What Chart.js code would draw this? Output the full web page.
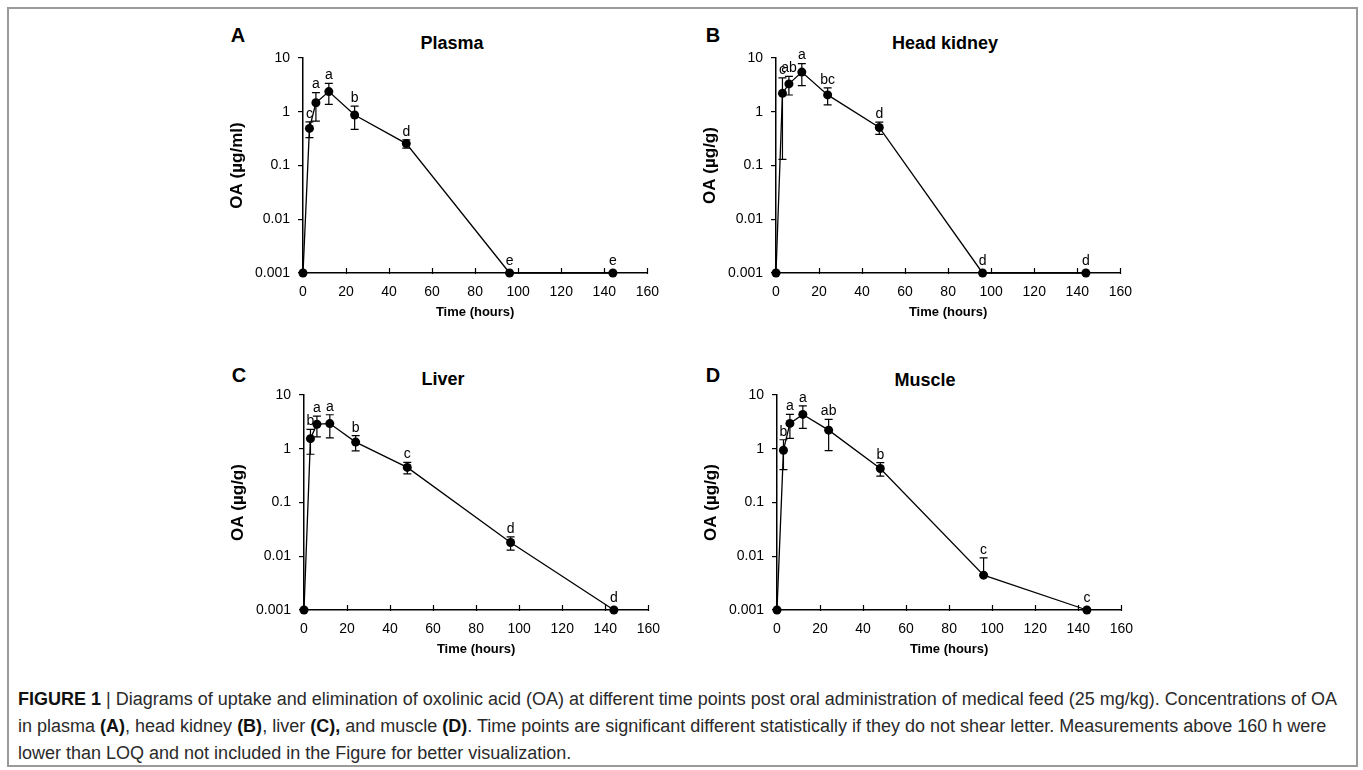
<!DOCTYPE html>
<html>
<head>
<meta charset="utf-8">
<script src="https://cdn.jsdelivr.net/npm/chart.js@4.4.1/dist/chart.umd.min.js"></script>
<style>
  body { margin: 0; background: #fff; width: 1363px; height: 770px; position: relative; overflow: hidden;
         font-family: "Liberation Sans", Arial, sans-serif; }
  #frame { position: absolute; left: 7px; top: 7px; width: 1347px; height: 756px; border: 2px solid #9a9a9a; }
  canvas { position: absolute; }
  .lbl { position: absolute; font-weight: bold; color: #000; transform: translate(-50%, -50%); white-space: nowrap; }
  .panel { font-size: 20px; }
  .ttl { font-size: 18px; }
  #caption { position: absolute; left: 18px; top: 686px; font-size: 18px; line-height: 27px; color: #2a2a2a; white-space: nowrap; }
  #caption b { font-weight: bold; color: #111; }
</style>
</head>
<body>
<div id="frame"></div>

<div class="lbl panel" style="left:238px;top:35px">A</div>
<div class="lbl panel" style="left:713px;top:35px">B</div>
<div class="lbl panel" style="left:239px;top:375px">C</div>
<div class="lbl panel" style="left:713px;top:375px">D</div>

<div class="lbl ttl" style="left:452px;top:43px">Plasma</div>
<div class="lbl ttl" style="left:945px;top:43px">Head kidney</div>
<div class="lbl ttl" style="left:443px;top:379px">Liver</div>
<div class="lbl ttl" style="left:925px;top:380px">Muscle</div>

<canvas id="chartA" width="470" height="310"></canvas>
<canvas id="chartB" width="470" height="310"></canvas>
<canvas id="chartC" width="470" height="310"></canvas>
<canvas id="chartD" width="470" height="310"></canvas>

<div id="caption"><b>FIGURE 1</b> | Diagrams of uptake and elimination of oxolinic acid (OA) at different time points post oral administration of medical feed (25 mg/kg). Concentrations of OA<br>in plasma <b>(A)</b>, head kidney <b>(B)</b>, liver <b>(C),</b> and muscle <b>(D)</b>. Time points are significant different statistically if they do not shear letter. Measurements above 160 h were<br>lower than LOQ and not included in the Figure for better visualization.</div>

<script>
// sampling times (hours) and axis ticks
const hours = [0, 3, 6, 12, 24, 48, 96, 144];
const xTicks = [0, 20, 40, 60, 80, 100, 120, 140, 160];
const yTicks = [0.001, 0.01, 0.1, 1, 10];
const yTickLabels = ['0.001', '0.01', '0.1', '1', '10'];

// mean OA concentration, SD and significance letters per tissue
const plasmaMean = [0.001, 0.49, 1.47, 2.37, 0.87, 0.256, 0.001, 0.001];
const plasmaSd = [0, 0.16, 0.8, 1.0, 0.4, 0.045, 0, 0];
const plasmaLetters = ['', 'c', 'a', 'a', 'b', 'd', 'e', 'e'];

const kidneyMean = [0.001, 2.2, 3.3, 5.47, 2.06, 0.51, 0.001, 0.001];
const kidneySd = [0, 2.07, 1.25, 2.4, 0.72, 0.13, 0, 0];
const kidneyLetters = ['', 'c', 'ab', 'a', 'bc', 'd', 'd', 'd'];

const liverMean = [0.001, 1.54, 2.86, 2.94, 1.33, 0.45, 0.018, 0.001];
const liverSd = [0, 0.75, 1.2, 1.35, 0.42, 0.11, 0.005, 0];
const liverLetters = ['', 'b', 'a', 'a', 'b', 'c', 'd', 'd'];

const muscleMean = [0.001, 0.94, 2.96, 4.35, 2.22, 0.43, 0.00445, 0.001];
const muscleSd = [0, 0.53, 1.4, 1.95, 1.3, 0.12, 0.0049, 0];
const muscleLetters = ['', 'b', 'a', 'a', 'ab', 'b', 'c', 'c'];

// plot area placement (left / top of the axes box)
const panels = [
  { id: 'chartA', yTitle: 'OA (µg/ml)', mean: plasmaMean, sd: plasmaSd, letters: plasmaLetters, left: 303, top: 58 },
  { id: 'chartB', yTitle: 'OA (µg/g)', mean: kidneyMean, sd: kidneySd, letters: kidneyLetters, left: 776, top: 58 },
  { id: 'chartC', yTitle: 'OA (µg/g)', mean: liverMean, sd: liverSd, letters: liverLetters, left: 304, top: 395 },
  { id: 'chartD', yTitle: 'OA (µg/g)', mean: muscleMean, sd: muscleSd, letters: muscleLetters, left: 777, top: 395 }
];

const Y_AXIS_W = 103;
const PAD_TOP = 38;

const errorBars = {
  id: 'errorBars',
  beforeDatasetsDraw(chart, args, opts) {
    const { ctx, scales: { x, y } } = chart;
    const pts = chart.data.datasets[0].data;
    ctx.save();
    ctx.strokeStyle = '#000';
    ctx.lineWidth = 1.2;
    pts.forEach((p, i) => {
      const sd = opts.sd[i];
      if (!sd) return;
      const px = x.getPixelForValue(p.x);
      const hi = y.getPixelForValue(p.y + sd);
      const lo = p.y - sd > 0 ? y.getPixelForValue(p.y - sd) : null;
      const mid = y.getPixelForValue(p.y);
      ctx.beginPath();
      ctx.moveTo(px, lo !== null ? lo : mid);
      ctx.lineTo(px, hi);
      ctx.moveTo(px - 4, hi);
      ctx.lineTo(px + 4, hi);
      if (lo !== null) {
        ctx.moveTo(px - 4, lo);
        ctx.lineTo(px + 4, lo);
      }
      ctx.stroke();
    });
    ctx.restore();
  },
  afterDatasetsDraw(chart, args, opts) {
    const { ctx, scales: { x, y }, chartArea } = chart;
    const pts = chart.data.datasets[0].data;
    ctx.save();
    ctx.fillStyle = '#000';
    ctx.font = '14px "Liberation Sans", Arial, sans-serif';
    ctx.textAlign = 'center';
    ctx.textBaseline = 'middle';
    pts.forEach((p, i) => {
      const txt = opts.letters[i];
      if (!txt) return;
      const px = x.getPixelForValue(p.x);
      const sd = opts.sd[i];
      const top = sd ? y.getPixelForValue(p.y + sd) : y.getPixelForValue(p.y) - 4;
      ctx.fillText(txt, px, top - 8);
    });
    // small inward tick marks on the time axis
    ctx.strokeStyle = '#000';
    ctx.lineWidth = 1.2;
    xTicks.forEach(v => {
      if (v === 0) return;
      const px = Math.round(x.getPixelForValue(v)) + 0.5;
      ctx.beginPath();
      ctx.moveTo(px, chartArea.bottom + 1);
      ctx.lineTo(px, chartArea.bottom - 5);
      ctx.stroke();
    });
    ctx.restore();
  }
};

panels.forEach(p => {
  const cv = document.getElementById(p.id);
  cv.style.left = (p.left - Y_AXIS_W) + 'px';
  cv.style.top = (p.top - PAD_TOP) + 'px';

  new Chart(cv, {
    type: 'line',
    data: {
      datasets: [{
        data: hours.map((h, i) => ({ x: h, y: p.mean[i] })),
        borderColor: '#000',
        borderWidth: 1.3,
        pointRadius: 4.5,
        pointBackgroundColor: '#000',
        pointBorderWidth: 0,
        tension: 0,
        clip: false
      }]
    },
    options: {
      responsive: false,
      animation: false,
      devicePixelRatio: 1,
      layout: { padding: { left: 0, right: 21, top: PAD_TOP, bottom: 9 } },
      plugins: {
        legend: { display: false },
        tooltip: { enabled: false },
        errorBars: { sd: p.sd, letters: p.letters }
      },
      scales: {
        x: {
          type: 'linear',
          min: 0,
          max: 160,
          afterBuildTicks: s => { s.ticks = xTicks.map(v => ({ value: v })); },
          afterFit: s => { s.height = 48; },
          grid: { display: false, drawTicks: false },
          border: { display: true, color: '#000', width: 1.5 },
          ticks: { color: '#000', padding: 11, maxRotation: 0, font: { family: '"Liberation Sans", Arial, sans-serif', size: 14 } },
          title: {
            display: true, text: 'Time (hours)', color: '#000',
            padding: { top: 0, bottom: 1 },
            font: { family: '"Liberation Sans", Arial, sans-serif', size: 13, weight: 'bold' }
          }
        },
        y: {
          type: 'logarithmic',
          min: 0.001,
          max: 10,
          afterBuildTicks: s => { s.ticks = yTicks.map(v => ({ value: v })); },
          afterFit: s => { s.width = Y_AXIS_W; },
          grid: { display: true, drawOnChartArea: false, drawTicks: true, tickLength: 5, color: '#000', lineWidth: 1.2 },
          border: { display: true, color: '#000', width: 1.5 },
          ticks: {
            color: '#000', padding: 8,
            font: { family: '"Liberation Sans", Arial, sans-serif', size: 14 },
            callback: (v, i) => yTickLabels[i]
          },
          title: {
            display: true, text: p.yTitle, color: '#000',
            padding: { top: 27.5, bottom: 0 },
            font: { family: '"Liberation Sans", Arial, sans-serif', size: 17, weight: 'bold' }
          }
        }
      }
    },
    plugins: [errorBars]
  });
});
</script>
</body>
</html>
